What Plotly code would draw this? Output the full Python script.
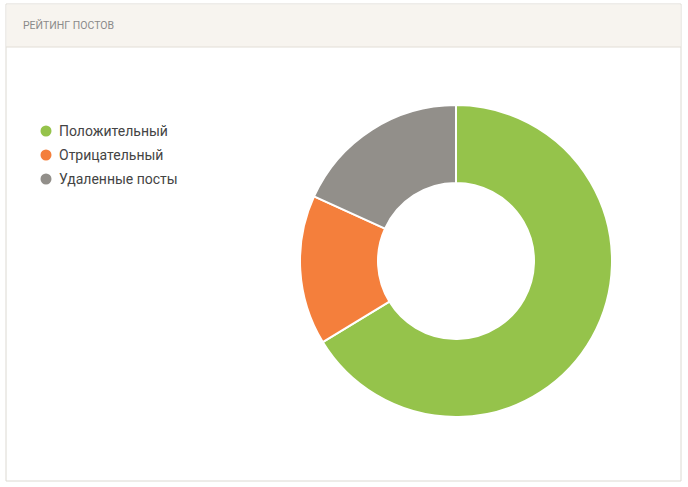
import plotly.graph_objects as go

labels = ["Положительный", "Отрицательный", "Удаленные посты"]
values = [66.3, 15.5, 18.2]
colors = ["#95c34b", "#f47f3c", "#928f8a"]
title_text = "РЕЙТИНГ ПОСТОВ"

W, H = 688, 487

def px(x):
    return x / W

def py(y):
    return 1 - y / H

fig = go.Figure()

fig.add_trace(go.Pie(
    labels=labels,
    values=values,
    marker=dict(colors=colors, line=dict(color="white", width=2)),
    hole=0.5,
    sort=False,
    direction="clockwise",
    rotation=0,
    textinfo="none",
    hoverinfo="label+percent",
    showlegend=False,
    domain=dict(x=[px(300), px(612)], y=[py(417), py(105)]),
))

shapes = [
    # card
    dict(type="rect", xref="paper", yref="paper", x0=px(6), x1=px(681), y0=py(481), y1=py(4),
         line=dict(color="#dcd9d2", width=1), fillcolor="white", layer="below"),
    # header
    dict(type="rect", xref="paper", yref="paper", x0=px(6.5), x1=px(680.5), y0=py(47), y1=py(4.5),
         line=dict(width=0), fillcolor="#f7f4ef", layer="below"),
    dict(type="line", xref="paper", yref="paper", x0=px(6), x1=px(681), y0=py(47), y1=py(47),
         line=dict(color="#e2ded6", width=1), layer="below"),
]

annotations = [
    dict(text=title_text, xref="paper", yref="paper", x=px(21), y=py(25), xanchor="left",
         yanchor="middle", showarrow=False, font=dict(family="Roboto", size=10.5, color="#8a8a8a")),
]

leg_y = [131, 155, 179]
for lab, col, yy in zip(labels, colors, leg_y):
    shapes.append(dict(type="circle", xref="paper", yref="paper",
                       x0=px(40.5), x1=px(51.5), y0=py(yy + 5.5), y1=py(yy - 5.5),
                       fillcolor=col, line=dict(width=0)))
    annotations.append(dict(text=lab, xref="paper", yref="paper", x=px(57), y=py(yy),
                            xanchor="left", yanchor="middle", showarrow=False,
                            font=dict(family="Roboto", size=14, color="#444444")))

fig.update_layout(
    width=W, height=H,
    margin=dict(l=0, r=0, t=0, b=0),
    paper_bgcolor="white",
    plot_bgcolor="white",
    shapes=shapes,
    annotations=annotations,
)

fig.write_html("out.html")
